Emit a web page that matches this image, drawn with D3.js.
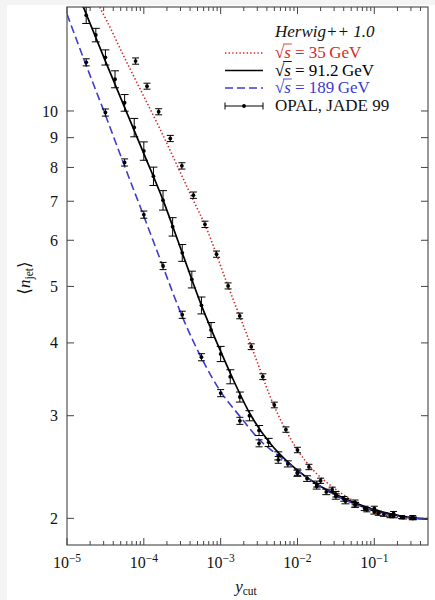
<!DOCTYPE html>
<html><head><meta charset="utf-8">
<script src="https://cdn.jsdelivr.net/npm/d3@7"></script>
<style>
html,body{margin:0;padding:0;background:#f4f4f4;}
svg{display:block;}
text{font-family:"Liberation Serif","DejaVu Serif",serif;}
</style></head><body>
<svg id="c" width="435" height="600"></svg>
<script>
// ---------- labels ----------
const herwigLabel = "Herwig++ 1.0";
const energyLabels = ["35\u2009GeV", "91.2\u2009GeV", "189\u2009GeV"];
const dataLabel = "OPAL, JADE 99";
const xTickExponents = [-5, -4, -3, -2, -1];
const yTickValues = [2, 3, 4, 5, 6, 7, 8, 9, 10];

// ---------- Herwig++ curves ----------
const curve35X = [2.4e-5, 2.64e-5, 6.28e-5, 8.93e-5, 1.63e-4, 4.2e-4, 6.4e-4, 1.26e-3, 2.54e-3, 4.95e-3, 1e-2, 1.6e-2, 2.91e-2, 4.84e-2, 7.98e-2, 0.146, 0.357, 0.5];
const curve35Y = [15.44, 15.1, 11.97, 10.91, 9.30, 7.12, 6.33, 4.99, 3.93, 3.12, 2.62, 2.42, 2.26, 2.16, 2.08, 2.024, 2.0, 1.998];

const curve91X = [1.5e-5, 3.16e-5, 1e-4, 1.78e-4, 3.16e-4, 5.62e-4, 9.82e-4, 1.40e-3, 2.42e-3, 4.40e-3, 8.85e-3, 1.78e-2, 3.59e-2, 7.99e-2, 0.177, 0.357, 0.5];
const curve91Y = [15.5, 12.18, 8.45, 7.03, 5.71, 4.64, 3.89, 3.50, 3.02, 2.69, 2.45, 2.29, 2.18, 2.09, 2.03, 2.00, 1.995];

const curve189X = [1e-5, 1.78e-5, 3.16e-5, 5.62e-5, 1e-4, 1.78e-4, 3.16e-4, 5.62e-4, 1e-3, 1.79e-3, 3.26e-3, 5.93e-3, 1.08e-2, 1.97e-2, 3.59e-2, 6.53e-2, 0.119, 0.217, 0.395, 0.5];
const curve189Y = [14.66, 11.97, 9.84, 8.04, 6.60, 5.40, 4.44, 3.77, 3.30, 2.99, 2.72, 2.55, 2.40, 2.27, 2.17, 2.10, 2.05, 2.02, 2.00, 1.998];

// ---------- data: JADE 35 GeV ----------
const jadeX = [7.81e-5, 1.1e-4, 1.56e-4, 2.21e-4, 3.13e-4, 4.42e-4, 6.25e-4, 8.84e-4, 1.25e-3, 1.77e-3, 2.5e-3, 3.54e-3, 5e-3, 7.07e-3, 1e-2, 1.41e-2, 2e-2, 2.83e-2, 4e-2, 5.66e-2, 8e-2, 0.113, 0.16, 0.226, 0.32];
const jadeY = [12.18, 11.03, 9.97, 8.97, 8.05, 7.17, 6.39, 5.68, 5.01, 4.45, 3.94, 3.50, 3.13, 2.84, 2.62, 2.45, 2.32, 2.24, 2.16, 2.11, 2.07, 2.04, 2.02, 2.01, 2.00];
const jadeErr = [0.15, 0.13, 0.12, 0.11, 0.10, 0.09, 0.08, 0.07, 0.06, 0.05, 0.045, 0.04, 0.035, 0.03, 0.028, 0.026, 0.024, 0.022, 0.02, 0.02, 0.018, 0.016, 0.015, 0.012, 0.01];

// ---------- data: OPAL 91.2 GeV ----------
const opal91X = [1.778e-5, 2.371e-5, 3.162e-5, 4.217e-5, 5.623e-5, 7.499e-5, 1e-4, 1.334e-4, 1.778e-4, 2.371e-4, 3.162e-4, 4.217e-4, 5.623e-4, 7.499e-4, 1e-3, 1.334e-3, 1.778e-3, 2.371e-3, 3.162e-3, 4.217e-3, 5.623e-3, 7.499e-3, 1e-2, 1.334e-2, 1.778e-2, 2.371e-2, 3.162e-2, 4.217e-2, 5.623e-2, 7.499e-2, 0.1, 0.1334, 0.1778, 0.2371, 0.3162];
const opal91Y = [14.6, 13.5, 12.36, 11.34, 10.33, 9.37, 8.54, 7.73, 7.03, 6.33, 5.71, 5.14, 4.64, 4.21, 3.83, 3.50, 3.23, 3.00, 2.83, 2.70, 2.56, 2.48, 2.39, 2.34, 2.27, 2.22, 2.18, 2.14, 2.11, 2.08, 2.05, 2.03, 2.016, 2.005, 1.999];
const opal91Err = [0.47, 0.36, 0.37, 0.38, 0.34, 0.34, 0.31, 0.28, 0.27, 0.23, 0.19, 0.17, 0.155, 0.125, 0.115, 0.097, 0.064, 0.06, 0.056, 0.043, 0.041, 0.03, 0.029, 0.026, 0.025, 0.024, 0.023, 0.022, 0.02, 0.018, 0.016, 0.014, 0.012, 0.01, 0.01];

// ---------- data: OPAL 189 GeV ----------
const opal189X = [1.78e-5, 3.16e-5, 5.62e-5, 1e-4, 1.78e-4, 3.16e-4, 5.62e-4, 1e-3, 1.78e-3, 3.16e-3, 5.62e-3, 1e-2, 1.78e-2, 3.16e-2, 5.62e-2, 0.1, 0.178, 0.316];
const opal189Y = [12.12, 9.94, 8.16, 6.64, 5.42, 4.47, 3.78, 3.28, 2.94, 2.69, 2.52, 2.40, 2.29, 2.20, 2.13, 2.08, 2.04, 2.01];
const opal189Err = [0.17, 0.14, 0.115, 0.094, 0.077, 0.063, 0.053, 0.046, 0.041, 0.037, 0.034, 0.03, 0.027, 0.024, 0.02, 0.018, 0.015, 0.012];

// ---------- drawing ----------
const W = 435, H = 600;
const L = 67, R = 428, T = 7, B = 545;
const RED = "#d42a2a", BLUE = "#3c3cd0", FRAME = "#444";

const svg = d3.select("#c");
svg.append("rect").attr("x", 7).attr("y", 5).attr("width", W - 7).attr("height", H - 5).attr("fill", "#fff");

const x = d3.scaleLog().domain([1e-5, 0.5]).range([L, R]);
const y = d3.scaleLog().domain([1.8, 15.08]).range([B, T]);

svg.append("clipPath").attr("id", "clip")
  .append("rect").attr("x", L).attr("y", T).attr("width", R - L).attr("height", B - T);

const plot = svg.append("g").attr("clip-path", "url(#clip)");
const line = d3.line().x(d => x(d[0])).y(d => y(d[1])).curve(d3.curveMonotoneX);
const zip = (a, b) => a.map((v, i) => [v, b[i]]);

plot.append("path").attr("d", line(zip(curve35X, curve35Y)))
  .attr("fill", "none").attr("stroke", RED).attr("stroke-width", 1.6)
  .attr("stroke-dasharray", "1.4,2.2");
plot.append("path").attr("d", line(zip(curve91X, curve91Y)))
  .attr("fill", "none").attr("stroke", "#000").attr("stroke-width", 1.7);
plot.append("path").attr("d", line(zip(curve189X, curve189Y)))
  .attr("fill", "none").attr("stroke", BLUE).attr("stroke-width", 1.6)
  .attr("stroke-dasharray", "8,4");

function drawData(xs, ys, es, capW) {
  const g = plot.append("g");
  xs.forEach((xv, i) => {
    const cx = x(xv), y1 = y(ys[i] - es[i]), y2 = y(ys[i] + es[i]);
    g.append("line").attr("x1", cx).attr("x2", cx).attr("y1", y1).attr("y2", y2)
      .attr("stroke", "#000").attr("stroke-width", 1);
    [y1, y2].forEach(yy => g.append("line").attr("x1", cx - capW / 2).attr("x2", cx + capW / 2)
      .attr("y1", yy).attr("y2", yy).attr("stroke", "#000").attr("stroke-width", 1));
    g.append("circle").attr("cx", cx).attr("cy", y(ys[i])).attr("r", 1.9).attr("fill", "#000");
  });
}
drawData(jadeX, jadeY, jadeErr, 7);
drawData(opal91X, opal91Y, opal91Err, 8);
drawData(opal189X, opal189Y, opal189Err, 7);

// frame
svg.append("rect").attr("x", L).attr("y", T).attr("width", R - L).attr("height", B - T)
  .attr("fill", "none").attr("stroke", FRAME).attr("stroke-width", 1.1);

// x ticks
const axG = svg.append("g").attr("stroke", FRAME).attr("stroke-width", 1);
xTickExponents.forEach(e => {
  for (let m = 1; m <= 9; m++) {
    const v = m * Math.pow(10, e);
    if (v > 0.5 + 1e-9) break;
    if (v >= 0.5 - 1e-9) continue;
    const len = m === 1 ? 7 : 4;
    const px = x(v);
    axG.append("line").attr("x1", px).attr("x2", px).attr("y1", B).attr("y2", B - len);
    axG.append("line").attr("x1", px).attr("x2", px).attr("y1", T).attr("y2", T + len);
  }
});
// y ticks
yTickValues.forEach(v => {
  const py = y(v);
  axG.append("line").attr("x1", L).attr("x2", L + 7).attr("y1", py).attr("y2", py);
  axG.append("line").attr("x1", R).attr("x2", R - 7).attr("y1", py).attr("y2", py);
});

// x tick labels
xTickExponents.forEach(e => {
  const t = svg.append("text").attr("x", x(Math.pow(10, e))).attr("y", 568)
    .attr("text-anchor", "middle").attr("font-size", 16).attr("fill", "#111");
  t.append("tspan").text("10");
  t.append("tspan").attr("dy", -6.5).attr("font-size", 11.5).text("\u2212" + Math.abs(e));
});
// y tick labels
yTickValues.forEach(v => {
  svg.append("text").attr("x", 58).attr("y", y(v)).attr("dy", "0.35em")
    .attr("text-anchor", "end").attr("font-size", 16).attr("fill", "#111").text(v);
});

// axis titles
const xt = svg.append("text").attr("x", 246).attr("y", 592).attr("text-anchor", "middle")
  .attr("font-size", 17).attr("fill", "#111");
xt.append("tspan").attr("font-style", "italic").text("y");
xt.append("tspan").attr("font-size", 11.5).attr("dy", 3).text("cut");

const yt = svg.append("text").attr("transform", "translate(30,278) rotate(-90)")
  .attr("text-anchor", "middle").attr("font-size", 17).attr("fill", "#111");
yt.append("tspan").text("\u27E8");
yt.append("tspan").attr("font-style", "italic").text("n");
yt.append("tspan").attr("font-size", 11.5).attr("dy", 3).text("jet");
yt.append("tspan").attr("dy", -3).text("\u27E9");

// legend
const LX0 = 225, LX1 = 263, TX = 275;
const LF = 17;
svg.append("text").attr("x", TX).attr("y", 37).attr("font-size", LF)
  .attr("font-style", "italic").attr("fill", "#111").text(herwigLabel);

const rowY = [53, 70.5, 88, 106];
const rowCol = [RED, "#000", BLUE];
const rowDash = ["1.4,2.2", null, "8,4"];
energyLabels.forEach((lab, i) => {
  const ly = rowY[i];
  const s = svg.append("line").attr("x1", LX0).attr("x2", LX1).attr("y1", ly).attr("y2", ly)
    .attr("stroke", rowCol[i]).attr("stroke-width", 1.6);
  if (rowDash[i]) s.attr("stroke-dasharray", rowDash[i]);
  const base = ly + 5;
  const t1 = svg.append("text").attr("x", TX).attr("y", base).attr("font-size", LF)
    .attr("fill", rowCol[i]).text("\u221A");
  const w1 = t1.node().getComputedTextLength();
  const t2 = svg.append("text").attr("x", TX + w1).attr("y", base).attr("font-size", LF)
    .attr("font-style", "italic").attr("fill", rowCol[i]).text("s");
  const w2 = t2.node().getComputedTextLength();
  svg.append("line").attr("x1", TX + w1 - 1.2).attr("x2", TX + w1 + w2 + 0.8)
    .attr("y1", base - 14).attr("y2", base - 14).attr("stroke", rowCol[i]).attr("stroke-width", 0.9);
  svg.append("text").attr("x", TX + w1 + w2 + 4).attr("y", base).attr("font-size", LF)
    .attr("fill", rowCol[i]).text("= " + lab);
});
// data legend
{
  const ly = rowY[3];
  const g = svg.append("g").attr("stroke", "#000").attr("stroke-width", 1);
  g.append("line").attr("x1", LX0).attr("x2", LX1).attr("y1", ly).attr("y2", ly);
  g.append("line").attr("x1", LX0).attr("x2", LX0).attr("y1", ly - 3.5).attr("y2", ly + 3.5);
  g.append("line").attr("x1", LX1).attr("x2", LX1).attr("y1", ly - 3.5).attr("y2", ly + 3.5);
  svg.append("circle").attr("cx", (LX0 + LX1) / 2).attr("cy", ly).attr("r", 1.9).attr("fill", "#000");
  svg.append("text").attr("x", TX).attr("y", ly + 5).attr("font-size", LF).attr("fill", "#111").text(dataLabel);
}
</script>
</body></html>
